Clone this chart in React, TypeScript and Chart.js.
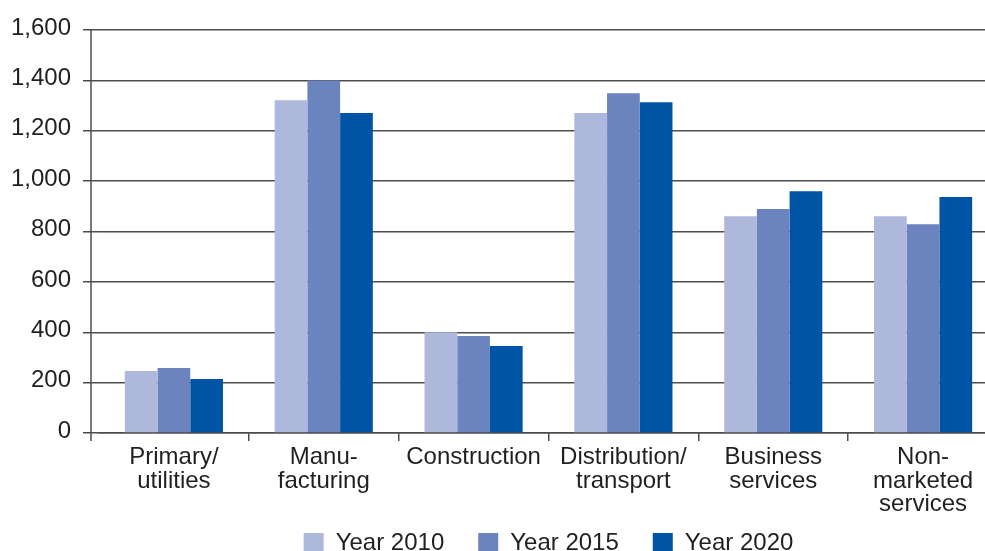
import React, { useEffect, useRef } from "react";
import { Chart, registerables } from "chart.js";

Chart.register(...registerables);

const categories: string[][] = [
  ["Primary/", "utilities"],
  ["Manu-", "facturing"],
  ["Construction"],
  ["Distribution/", "transport"],
  ["Business", "services"],
  ["Non-", "marketed", "services"],
];
const year2010: number[] = [246, 1321, 400, 1270, 861, 861];
const year2015: number[] = [258, 1400, 385, 1349, 889, 829];
const year2020: number[] = [214, 1270, 345, 1313, 960, 937];
const seriesLabels: string[] = ["Year 2010", "Year 2015", "Year 2020"];
const seriesColors: string[] = ["#aeb8dc", "#6b84c0", "#0054a6"];
const yTicks: number[] = [0, 200, 400, 600, 800, 1000, 1200, 1400, 1600];

const FONT = "'Liberation Sans', Arial, Helvetica, sans-serif";
const TEXT = "#231f20";
const GRID = "#4d4d4d";

const axisLinePlugin = {
  id: "axisLine",
  beforeDatasetsDraw(chart: any) {
    const { ctx, chartArea } = chart;
    const x = chartArea.left - 8;
    ctx.save();
    ctx.strokeStyle = GRID;
    ctx.lineWidth = 1.5;
    ctx.beginPath();
    ctx.moveTo(x, chartArea.top);
    ctx.lineTo(x, chartArea.bottom + 8);
    ctx.stroke();
    ctx.restore();
  },
};

export default function App() {
  const ref = useRef<HTMLCanvasElement | null>(null);
  useEffect(() => {
    if (!ref.current) return;
    const data = [year2010, year2015, year2020];
    const chart = new Chart(ref.current, {
      type: "bar",
      data: {
        labels: categories,
        datasets: data.map((d, i) => ({
          label: seriesLabels[i],
          data: d,
          backgroundColor: seriesColors[i],
          borderWidth: 0,
          categoryPercentage: 0.655,
          barPercentage: 1,
        })),
      },
      options: {
        animation: false,
        responsive: false,
        devicePixelRatio: 1,
        layout: { padding: { left: 0, right: 2, top: 30, bottom: 0 } },
        plugins: {
          tooltip: { enabled: false },
          legend: {
            position: "bottom",
            fullSize: false,
            labels: {
              boxWidth: 20,
              boxHeight: 20,
              padding: 34,
              color: TEXT,
              font: { family: FONT, size: 24 },
            },
          },
        },
        scales: {
          x: {
            afterFit: (s: any) => {
              s.height = 64;
              s._computeLabelArea = () => undefined;
            },
            grid: {
              drawOnChartArea: false,
              drawTicks: true,
              tickLength: 8,
              lineWidth: 1.5,
              color: (c: any) => (c.index === 0 ? "rgba(0,0,0,0)" : GRID),
            },
            border: { display: true, color: GRID, width: 1.5 },
            ticks: {
              color: TEXT,
              padding: 5,
              maxRotation: 0,
              autoSkip: false,
              font: { family: FONT, size: 24, lineHeight: 0.97 },
            },
          },
          y: {
            min: 0,
            max: 1600,
            afterFit: (s: any) => {
              s.width = 99;
            },
            afterBuildTicks: (s: any) => {
              s.ticks = yTicks.map((v) => ({ value: v }));
            },
            grid: {
              color: GRID,
              lineWidth: 1.5,
              drawTicks: true,
              tickLength: 16,
            },
            border: { display: false },
            ticks: {
              color: TEXT,
              padding: 12,
              labelOffset: -2,
              font: { family: FONT, size: 24 },
              callback: (v: any) => Number(v).toLocaleString("en-US"),
            },
          },
        },
      },
      plugins: [axisLinePlugin],
    });
    return () => chart.destroy();
  }, []);

  return (
    <div
      style={{
        position: "fixed",
        left: 0,
        top: 0,
        width: 985,
        height: 551,
        overflow: "hidden",
        background: "#ffffff",
      }}
    >
      <canvas ref={ref} width={1000} height={565} style={{ display: "block" }} />
    </div>
  );
}
